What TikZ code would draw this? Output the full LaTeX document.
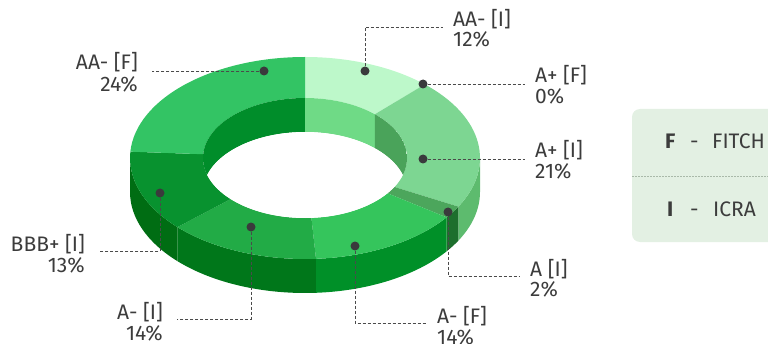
\documentclass[tikz,border=0pt]{standalone}
\usepackage{fontspec}
\setmainfont{Fira Sans}
\definecolor{cAAI}{HTML}{BDF8CA}
\definecolor{cAPI}{HTML}{7DD692}
\definecolor{cAI}{HTML}{4CA65C}
\definecolor{cAMF}{HTML}{35C55C}
\definecolor{cAMI}{HTML}{22AB46}
\definecolor{cBBB}{HTML}{08922F}
\definecolor{cAAF}{HTML}{33C464}
\definecolor{sAPI}{HTML}{5DBB6E}
\definecolor{sAI}{HTML}{1D6F2D}
\definecolor{sAMF}{HTML}{009028}
\definecolor{sAMI}{HTML}{00771A}
\definecolor{sBBB}{HTML}{006D13}
\definecolor{iAAF}{HTML}{008D2A}
\definecolor{iAAI}{HTML}{6FDA86}
\definecolor{iAPI}{HTML}{4AA35A}
\definecolor{iBBB}{HTML}{007A1E}
\definecolor{dotc}{HTML}{3A3A3C}
\definecolor{leadc}{HTML}{4A4A4A}
\definecolor{txtc}{HTML}{3C3C3C}
\definecolor{legbg}{HTML}{E3F0E3}
\definecolor{legline}{HTML}{A9B9A9}
\newcommand\topsec[3]{%
  \fill[#3] ([shift={(305,185)}]#1:175pt and 101pt) arc[start angle=#1,end angle=#2,x radius=175pt,y radius=101pt]
    -- ([shift={(305,185)}]#2:102pt and 60pt) arc[start angle=#2,end angle=#1,x radius=102pt,y radius=60pt] -- cycle;}
\newcommand\sidesec[3]{%
  \fill[#3] ([shift={(305,185)}]#1:175pt and 101pt) arc[start angle=#1,end angle=#2,x radius=175pt,y radius=101pt]
    -- ++(0,-34) arc[start angle=#2,end angle=#1,x radius=175pt,y radius=101pt] -- cycle;}
\newcommand\innersec[3]{%
  \fill[#3] ([shift={(305,185)}]#1:102pt and 60pt) arc[start angle=#1,end angle=#2,x radius=102pt,y radius=60pt]
    -- ++(0,-34) arc[start angle=#2,end angle=#1,x radius=102pt,y radius=60pt] -- cycle;}
\tikzset{
  ldot/.style={circle,fill=dotc,inner sep=0pt,minimum size=9pt},
  lead/.style={draw=leadc,dash pattern=on 3pt off 2pt,line width=0.9pt},
  lbl/.style={text=txtc,font=\fontsize{21}{22}\selectfont,inner sep=0pt},
}
\begin{document}
\begin{tikzpicture}[x=1pt,y=1pt]
\useasboundingbox (0,0) rectangle (768,343);
\clip (0,0) rectangle (768,343);
% outer side walls
\sidesec{0}{-28.8}{sAPI}
\sidesec{-28.8}{-36}{sAI}
\sidesec{-36}{-86.4}{sAMF}
\sidesec{-86.4}{-136.8}{sAMI}
\sidesec{-136.8}{-180}{sBBB}
% top faces
\topsec{90}{46.8}{cAAI}
\topsec{46.8}{-28.8}{cAPI}
\topsec{-28.8}{-36}{cAI}
\topsec{-36}{-86.4}{cAMF}
\topsec{-86.4}{-136.8}{cAMI}
\topsec{-136.8}{-183.6}{cBBB}
\topsec{176.4}{90}{cAAF}
% inner walls
\begin{scope}
\clip (305,185) ellipse [x radius=102pt,y radius=60pt];
\innersec{180}{176.4}{iBBB}
\innersec{176.4}{90}{iAAF}
\innersec{90}{46.8}{iAAI}
\innersec{46.8}{0}{iAPI}
\fill[white] (305,151) ellipse [x radius=102pt,y radius=60pt];
\end{scope}
% dots
\node[ldot] (dAAI) at (365,272) {};
\node[ldot] (dAPF) at (423,259) {};
\node[ldot] (dAPI) at (423,184) {};
\node[ldot] (dAI)  at (448,131) {};
\node[ldot] (dAMF) at (355,97) {};
\node[ldot] (dAMI) at (251,116) {};
\node[ldot] (dBBB) at (160,150) {};
\node[ldot] (dAAF) at (264,272) {};
% leader ends
\coordinate (eAAI) at (443,316);
\coordinate (eAPF) at (525,259);
\coordinate (eAPI) at (525,184);
\coordinate (eAI)  at (519,67);
\coordinate (eAMF) at (426,20);
\coordinate (eAMI) at (177,24);
\coordinate (eBBB) at (99,92);
\coordinate (eAAF) at (152,272);
\draw[lead] (dAAI) |- (eAAI);
\draw[lead] (dAPF) -- (eAPF);
\draw[lead] (dAPI) -- (eAPI);
\draw[lead] (dAI) |- (eAI);
\draw[lead] (dAMF) |- (eAMF);
\draw[lead] (dAMI) |- (eAMI);
\draw[lead] (dBBB) |- (eBBB);
\draw[lead] (dAAF) -- (eAAF);
% labels
\node[lbl,anchor=base west] (tAAI1) at (453,316) {AA- [I]};
\node[lbl,anchor=base west] (tAAI2) at (453,296) {12\%};
\node[lbl,anchor=base west] (tAPF1) at (535,260) {A+ [F]};
\node[lbl,anchor=base west] (tAPF2) at (535,239) {0\%};
\node[lbl,anchor=base west] (tAPI1) at (535,185) {A+ [I]};
\node[lbl,anchor=base west] (tAPI2) at (535,164) {21\%};
\node[lbl,anchor=base west] (tAI1) at (530,67) {A [I]};
\node[lbl,anchor=base west] (tAI2) at (530,47) {2\%};
\node[lbl,anchor=base west] (tAMF1) at (437,20) {A- [F]};
\node[lbl,anchor=base west] (tAMF2) at (437,-1) {14\%};
\node[lbl,anchor=base east] (tAMI1) at (163,24) {A- [I]};
\node[lbl,anchor=base east] (tAMI2) at (163,3) {14\%};
\node[lbl,anchor=base east] (tBBB1) at (85,92) {BBB+ [I]};
\node[lbl,anchor=base east] (tBBB2) at (85,71) {13\%};
\node[lbl,anchor=base east] (tAAF1) at (138,273) {AA- [F]};
\node[lbl,anchor=base east] (tAAF2) at (138,251) {24\%};
% legend
\fill[legbg,rounded corners=8pt] (632,101) rectangle (800,234);
\draw[legline,line width=0.8pt,dash pattern=on 1.5pt off 1.5pt] (632,167) -- (768,167);
\node[lbl,anchor=base west,font=\fontsize{21}{22}\selectfont\bfseries] (lF) at (665,194) {F};
\node[lbl,anchor=base west] (lFd) at (690,194) {-};
\node[lbl,anchor=base west] (lFt) at (712,194) {FITCH};
\node[lbl,anchor=base west,font=\fontsize{21}{22}\selectfont\bfseries] (lI) at (667,126) {I};
\node[lbl,anchor=base west] (lId) at (690,126) {-};
\node[lbl,anchor=base west] (lIt) at (713,126) {ICRA};
\end{tikzpicture}
\end{document}
